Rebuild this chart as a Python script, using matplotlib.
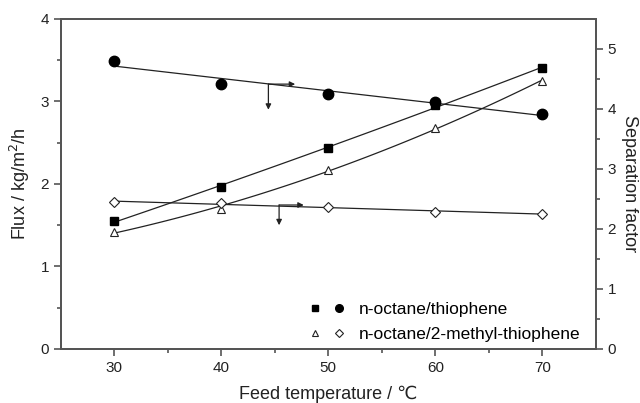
import numpy as np
import matplotlib
matplotlib.use('Agg')
import matplotlib.pyplot as plt
from matplotlib.lines import Line2D
from matplotlib.legend_handler import HandlerTuple

plt.rcParams['font.family'] = ['Liberation Sans', 'DejaVu Sans']

temperature = [30, 40, 50, 60, 70]
# flux (left axis)
flux_thiophene = [1.55, 1.96, 2.44, 2.96, 3.40]
flux_methyl = [1.42, 1.70, 2.17, 2.68, 3.25]
# separation factor (right axis)
sep_thiophene = [4.80, 4.42, 4.25, 4.12, 3.92]
sep_methyl = [2.45, 2.43, 2.36, 2.29, 2.25]

ink = '#222222'
fig = plt.figure(figsize=(6.4, 4.03), dpi=100)
ax = fig.add_axes([0.095, 0.134, 0.836, 0.819])
ax2 = ax.twinx()

t = np.array(temperature)
tt = np.linspace(30, 70, 100)

def fit(y, deg):
    return np.polyval(np.polyfit(t, y, deg), tt)

ax.plot(tt, fit(flux_thiophene, 2), color=ink, lw=0.9)
ax.plot(tt, fit(flux_methyl, 2), color=ink, lw=0.9)
ax2.plot(tt, fit(sep_thiophene, 1), color=ink, lw=0.9)
ax2.plot(tt, fit(sep_methyl, 1), color=ink, lw=0.9)

ax.plot(temperature, flux_thiophene, 's', color='black', ms=5.5, ls='none')
ax.plot(temperature, flux_methyl, '^', mfc='white', mec=ink, ms=6, mew=0.8, ls='none')
ax2.plot(temperature, sep_thiophene, 'o', color='black', ms=7.5, ls='none')
ax2.plot(temperature, sep_methyl, 'D', mfc='white', mec=ink, ms=5.5, mew=0.8, ls='none')

# arrows pointing at the axes
arr = dict(arrowstyle='-|>', color=ink, lw=0.9, mutation_scale=8, shrinkA=0, shrinkB=0)
for x0, y0, x1, y1 in [(44.4, 3.21, 46.9, 2.90), (45.4, 1.745, 47.7, 1.50)]:
    ax.annotate('', xy=(x1, y0), xytext=(x0, y0), arrowprops=arr)
    ax.annotate('', xy=(x0, y1), xytext=(x0, y0), arrowprops=arr)

ax.set_xlim(25, 75)
ax.set_ylim(0, 4)
ax2.set_ylim(0, 5.5)
ax.set_xticks([30, 40, 50, 60, 70])
ax.set_xticks([35, 45, 55, 65], minor=True)
ax.set_yticks([0, 1, 2, 3, 4])
ax.set_yticks([0.5, 1.5, 2.5, 3.5], minor=True)
ax2.set_yticks([0, 1, 2, 3, 4, 5])
ax2.set_yticks([0.5, 1.5, 2.5, 3.5, 4.5], minor=True)

for a in (ax, ax2):
    for s in a.spines.values():
        s.set_color('#555555')
        s.set_linewidth(1.4)
    a.tick_params(which='major', length=5, width=1.2, color='#555555', labelsize=11, labelcolor=ink)
    a.tick_params(which='minor', length=3, width=1.2, color='#555555')

ax.set_xlabel('Feed temperature / \u2103', fontsize=13, color=ink, labelpad=8)
ax.set_ylabel('Flux / kg/m$^2$/h', fontsize=13, color=ink, labelpad=6)
ax2.set_ylabel('Separation factor', fontsize=13, color=ink, rotation=270, labelpad=16)

# legend proxies with small markers
h_sq = Line2D([], [], marker='s', color='black', ms=4.5, ls='none')
h_ci = Line2D([], [], marker='o', color='black', ms=5.5, ls='none')
h_tri = Line2D([], [], marker='^', mfc='white', mec=ink, mew=0.8, ms=5, ls='none')
h_di = Line2D([], [], marker='D', mfc='white', mec=ink, mew=0.8, ms=4.5, ls='none')
ax.legend([(h_sq, h_ci), (h_tri, h_di)], ['n-octane/thiophene', 'n-octane/2-methyl-thiophene'],
          handler_map={tuple: HandlerTuple(ndivide=None, pad=0.6)},
          loc='lower right', bbox_to_anchor=(1.0, -0.025), frameon=False,
          fontsize=12.5, handlelength=2.2, handletextpad=0.7, labelspacing=0.55)

fig.savefig('out.png', dpi=100)
